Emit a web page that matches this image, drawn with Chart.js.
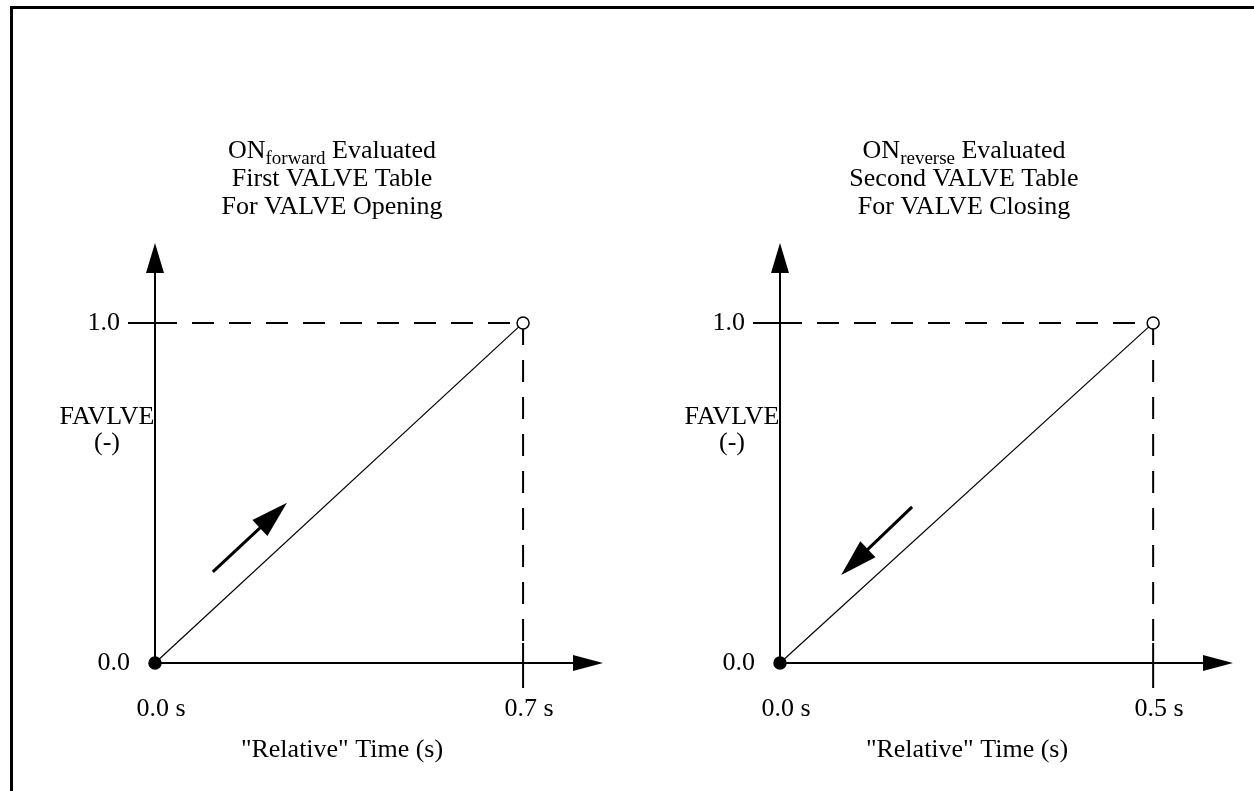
<!DOCTYPE html>
<html>
<head>
<meta charset="utf-8">
<script src="https://cdn.jsdelivr.net/npm/chart.js@4.4.0/dist/chart.umd.min.js"></script>
<style>
    html, body { margin: 0; padding: 0; background: #fff; }
    #wrap { position: relative; width: 1254px; height: 791px; overflow: hidden; }
    #moldura { position: absolute; left: 10px; top: 6px; width: 1400px; height: 900px;
               border-top: 3px solid #000; border-left: 3px solid #000; }
    canvas { position: absolute; left: 0; top: 0; }
</style>
</head>
<body>
<div id="wrap">
    <div id="moldura"></div>
    <canvas id="graficoAbertura" width="1254" height="791"></canvas>
    <canvas id="graficoFechamento" width="1254" height="791"></canvas>
</div>
<script>
// dados da primeira tabela (abertura da valvula)
const tempoAbertura = [0.0, 0.7];
const favlveAbertura = [0.0, 1.0];
const rotulosXAbertura = ['0.0 s', '0.7 s'];
const setaAbertura = [[0.110, 0.268], [0.251, 0.471]]; // [cauda, ponta] em unidades dos eixos

// dados da segunda tabela (fechamento da valvula)
const tempoFechamento = [0.0, 0.5];
const favlveFechamento = [0.0, 1.0];
const rotulosXFechamento = ['0.0 s', '0.5 s'];
const setaFechamento = [[0.177, 0.459], [0.082, 0.259]];

const rotulosY = ['0.0', '1.0'];
const tituloAbertura = ['ON', 'forward', ' Evaluated', 'First VALVE Table', 'For VALVE Opening'];
const tituloFechamento = ['ON', 'reverse', ' Evaluated', 'Second VALVE Table', 'For VALVE Closing'];

const FONTE = '"Liberation Serif", "Times New Roman", serif';

// desenha uma linha com cabeca de seta triangular
function seta(ctx, x1, y1, x2, y2, comp, larg, esp) {
    const ang = Math.atan2(y2 - y1, x2 - x1);
    const bx = x2 - Math.cos(ang) * comp, by = y2 - Math.sin(ang) * comp;
    ctx.lineWidth = esp;
    ctx.beginPath();
    ctx.moveTo(x1, y1);
    ctx.lineTo(bx + Math.cos(ang) * 2, by + Math.sin(ang) * 2);
    ctx.stroke();
    ctx.beginPath();
    ctx.moveTo(x2, y2);
    ctx.lineTo(bx - Math.sin(ang) * larg, by + Math.cos(ang) * larg);
    ctx.lineTo(bx + Math.sin(ang) * larg, by - Math.cos(ang) * larg);
    ctx.closePath();
    ctx.fill();
}

// plugin que desenha eixos, tracejados, setas e textos do diagrama
const diagramaPlugin = {
    id: 'diagrama',
    beforeDatasetsDraw(chart, args, opts) {
        const ctx = chart.ctx;
        const xs = chart.scales.x, ys = chart.scales.y, ca = chart.chartArea;
        const x0 = xs.getPixelForValue(0), y0 = ys.getPixelForValue(0);
        const x1 = xs.getPixelForValue(opts.tempo[1]), y1 = ys.getPixelForValue(opts.favlve[1]);
        ctx.save();
        ctx.strokeStyle = '#000';
        ctx.fillStyle = '#000';

        // eixos com setas
        seta(ctx, x0, y0, x0, ca.top, 30, 9, 2);
        seta(ctx, x0, y0, ca.right, y0, 30, 8, 2);

        // marca do 1.0 e marca do tempo final
        ctx.lineWidth = 2;
        ctx.beginPath();
        ctx.moveTo(x0 - 27, y1); ctx.lineTo(x0, y1);
        ctx.moveTo(x1, y0 - 20); ctx.lineTo(x1, y0 + 25);
        ctx.stroke();

        // tracejados
        ctx.setLineDash([22, 15]);
        ctx.beginPath();
        ctx.moveTo(x0, y1); ctx.lineTo(x1, y1);
        ctx.moveTo(x1, y1); ctx.lineTo(x1, y0 - 20);
        ctx.stroke();
        ctx.setLineDash([]);

        // seta indicando o sentido
        const s = opts.seta;
        seta(ctx, xs.getPixelForValue(s[0][0]), ys.getPixelForValue(s[0][1]),
             xs.getPixelForValue(s[1][0]), ys.getPixelForValue(s[1][1]), 37, 11, 3);

        // textos
        ctx.font = '26px ' + FONTE;
        ctx.textBaseline = 'middle';
        ctx.textAlign = 'right';
        ctx.fillText(rotulosY[1], x0 - 35, y1);
        ctx.fillText(rotulosY[0], x0 - 25, y0);
        ctx.textAlign = 'center';
        ctx.fillText('FAVLVE', x0 - 48, 417);
        ctx.fillText('(-)', x0 - 48, 443);
        ctx.fillText(opts.rotulosX[0], x0 + 6, 709);
        ctx.fillText(opts.rotulosX[1], x1 + 6, 709);
        ctx.fillText('"Relative" Time (s)', x0 + 187, 750);

        // titulo com subscrito
        const t = opts.titulo, cx = x0 + opts.tituloDx;
        ctx.textBaseline = 'alphabetic';
        ctx.font = '26px ' + FONTE;
        const w1 = ctx.measureText(t[0]).width, w3 = ctx.measureText(t[2]).width;
        ctx.font = '19px ' + FONTE;
        const w2 = ctx.measureText(t[1]).width;
        let x = cx - (w1 + w2 + w3) / 2;
        ctx.textAlign = 'left';
        ctx.font = '26px ' + FONTE;
        ctx.fillText(t[0], x, 158);
        ctx.font = '19px ' + FONTE;
        ctx.fillText(t[1], x + w1, 164);
        ctx.font = '26px ' + FONTE;
        ctx.fillText(t[2], x + w1 + w2, 158);
        ctx.textAlign = 'center';
        ctx.fillText(t[3], cx, 186);
        ctx.fillText(t[4], cx, 214);
        ctx.restore();
    }
};

function criaGrafico(id, tempo, favlve, xMax, padding, extras) {
    return new Chart(document.getElementById(id).getContext('2d'), {
        type: 'scatter',
        data: {
            datasets: [{
                data: tempo.map((t, i) => ({ x: t, y: favlve[i] })),
                showLine: true,
                borderColor: '#000',
                borderWidth: 1.2,
                pointRadius: 6,
                pointBorderWidth: 1.5,
                pointBorderColor: '#000',
                pointBackgroundColor: ['#000', '#fff'],
                clip: false
            }]
        },
        options: {
            responsive: false,
            animation: false,
            events: [],
            layout: { padding: padding },
            plugins: { legend: { display: false }, tooltip: { enabled: false }, diagrama: extras },
            scales: {
                x: { type: 'linear', min: 0, max: xMax, display: false },
                y: { type: 'linear', min: 0, max: 1.235, display: false }
            }
        },
        plugins: [diagramaPlugin]
    });
}

criaGrafico('graficoAbertura', tempoAbertura, favlveAbertura, 0.852,
    { left: 155, right: 651, top: 243, bottom: 128 },
    { tempo: tempoAbertura, favlve: favlveAbertura, rotulosX: rotulosXAbertura,
      seta: setaAbertura, titulo: tituloAbertura, tituloDx: 177 });

criaGrafico('graficoFechamento', tempoFechamento, favlveFechamento, 0.607,
    { left: 780, right: 21, top: 243, bottom: 128 },
    { tempo: tempoFechamento, favlve: favlveFechamento, rotulosX: rotulosXFechamento,
      seta: setaFechamento, titulo: tituloFechamento, tituloDx: 184 });
</script>
</body>
</html>
